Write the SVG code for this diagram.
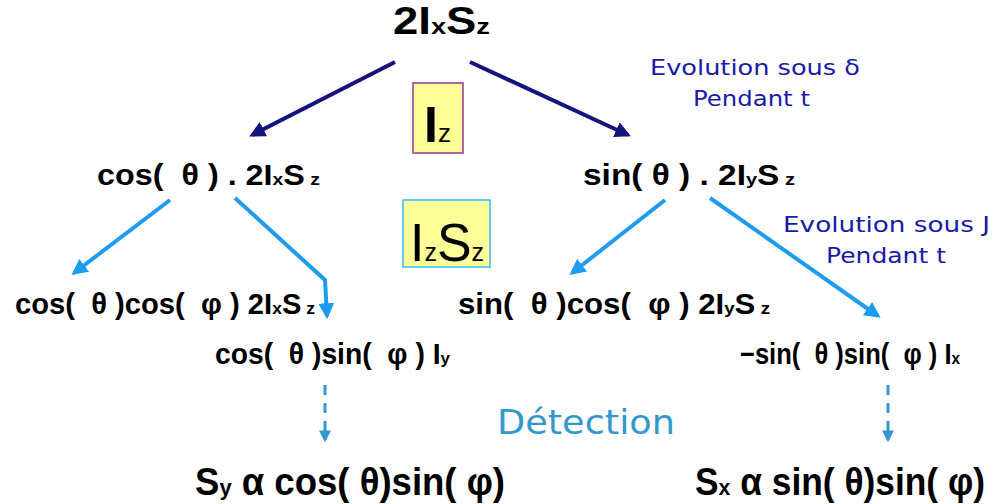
<svg xmlns="http://www.w3.org/2000/svg" width="994" height="504" viewBox="0 0 994 504">
<defs>
<style>
.m{font-family:"Liberation Sans",Arial,sans-serif;font-weight:bold;fill:#000;white-space:pre}
.s{font-size:60%}
.ev{font-family:"DejaVu Sans","Liberation Sans",sans-serif;fill:#1a1aa8;font-size:22px}
.det{font-family:"DejaVu Sans","Liberation Sans",sans-serif;fill:#3399cc;font-size:33px}
.nv{stroke:#14147e;stroke-width:4;fill:none}
.lb{stroke:#1e9cf0;stroke-width:4;fill:none}
.ds{stroke:#3399cc;stroke-width:3;fill:none;stroke-dasharray:10,8}
</style>
<marker id="an" viewBox="0 0 10 10" refX="8" refY="5" markerWidth="4" markerHeight="4" orient="auto" markerUnits="strokeWidth"><path d="M0,0L10,5L0,10z" fill="#14147e"/></marker>
<marker id="al" viewBox="0 0 10 10" refX="8" refY="5" markerWidth="4" markerHeight="4" orient="auto" markerUnits="strokeWidth"><path d="M0,0L10,5L0,10z" fill="#1e9cf0"/></marker>
<marker id="ad" viewBox="0 0 10 10" refX="8" refY="5" markerWidth="4" markerHeight="4" orient="auto" markerUnits="strokeWidth"><path d="M0,0L10,5L0,10z" fill="#3399cc"/></marker>
</defs>
<g id="connectors">
<line class="nv" x1="395" y1="62" x2="252" y2="135" marker-end="url(#an)"/>
<line class="nv" x1="470" y1="62" x2="628" y2="135" marker-end="url(#an)"/>
<line class="lb" x1="170" y1="200" x2="74" y2="273" marker-end="url(#al)"/>
<polyline class="lb" points="235,198 325,280 327,316" marker-end="url(#al)"/>
<line class="lb" x1="665" y1="200" x2="572" y2="273" marker-end="url(#al)"/>
<line class="lb" x1="710" y1="198" x2="878" y2="316" marker-end="url(#al)"/>
<line class="ds" x1="325" y1="385" x2="325" y2="440" marker-end="url(#ad)"/>
<line class="ds" x1="888" y1="385" x2="888" y2="440" marker-end="url(#ad)"/>
</g>
<g id="top"><text class="m" x="393" y="34" font-size="38" textLength="97" lengthAdjust="spacingAndGlyphs">2I<tspan class="s">x</tspan>S<tspan class="s">z</tspan></text></g>
<g id="box-iz"><rect x="413" y="83" width="50" height="70" fill="#ffff99" stroke="#993399" stroke-width="1.5"/><text x="424" y="142" font-family="Liberation Sans,Arial,sans-serif" font-weight="bold" font-size="50">I<tspan font-size="26" font-weight="normal">z</tspan></text></g>
<g id="box-izsz"><rect x="403" y="200" width="87" height="67" fill="#ffff99" stroke="#33bbff" stroke-width="1.5"/><text x="410" y="261" font-family="Liberation Sans,Arial,sans-serif" font-size="54" textLength="74" lengthAdjust="spacingAndGlyphs">I<tspan font-size="26">z</tspan>S<tspan font-size="26">z</tspan></text></g>
<g id="n-cos"><text class="m" x="97" y="185" font-size="29" textLength="223" lengthAdjust="spacingAndGlyphs">cos(  θ ) . 2I<tspan class="s">x</tspan>S<tspan class="s"> z</tspan></text></g>
<g id="n-sin"><text class="m" x="583" y="185" font-size="29" textLength="212" lengthAdjust="spacingAndGlyphs">sin( θ ) . 2I<tspan class="s">y</tspan>S<tspan class="s"> z</tspan></text></g>
<g id="n-cc"><text class="m" x="15" y="314" font-size="29" textLength="300" lengthAdjust="spacingAndGlyphs">cos(  θ )cos(  φ ) 2I<tspan class="s">x</tspan>S<tspan class="s"> z</tspan></text></g>
<g id="n-cs"><text class="m" x="215" y="364" font-size="29" textLength="235" lengthAdjust="spacingAndGlyphs">cos(  θ )sin(  φ ) I<tspan class="s">y</tspan></text></g>
<g id="n-sc"><text class="m" x="458" y="314" font-size="29" textLength="312" lengthAdjust="spacingAndGlyphs">sin(  θ )cos(  φ ) 2I<tspan class="s">y</tspan>S<tspan class="s"> z</tspan></text></g>
<g id="n-ss"><text class="m" x="740" y="364" font-size="29" textLength="220" lengthAdjust="spacingAndGlyphs">−sin(  θ )sin(  φ ) I<tspan class="s">x</tspan></text></g>
<g id="lbl-delta"><text class="ev" x="650" y="75" textLength="210" lengthAdjust="spacingAndGlyphs">Evolution sous δ</text><text class="ev" x="693" y="106" textLength="117" lengthAdjust="spacingAndGlyphs">Pendant t</text></g>
<g id="lbl-j"><text class="ev" x="783" y="232" textLength="207" lengthAdjust="spacingAndGlyphs">Evolution sous J</text><text class="ev" x="826" y="263" textLength="120" lengthAdjust="spacingAndGlyphs">Pendant t</text></g>
<g id="det"><text class="det" x="497" y="434" textLength="178" lengthAdjust="spacingAndGlyphs">Détection</text></g>
<g id="res-y"><text class="m" x="195" y="495" font-size="38" textLength="310" lengthAdjust="spacingAndGlyphs">S<tspan class="s">y</tspan> α cos( θ)sin( φ)</text></g>
<g id="res-x"><text class="m" x="695" y="495" font-size="38" textLength="290" lengthAdjust="spacingAndGlyphs">S<tspan class="s">x</tspan> α sin( θ)sin( φ)</text></g>
</svg>
